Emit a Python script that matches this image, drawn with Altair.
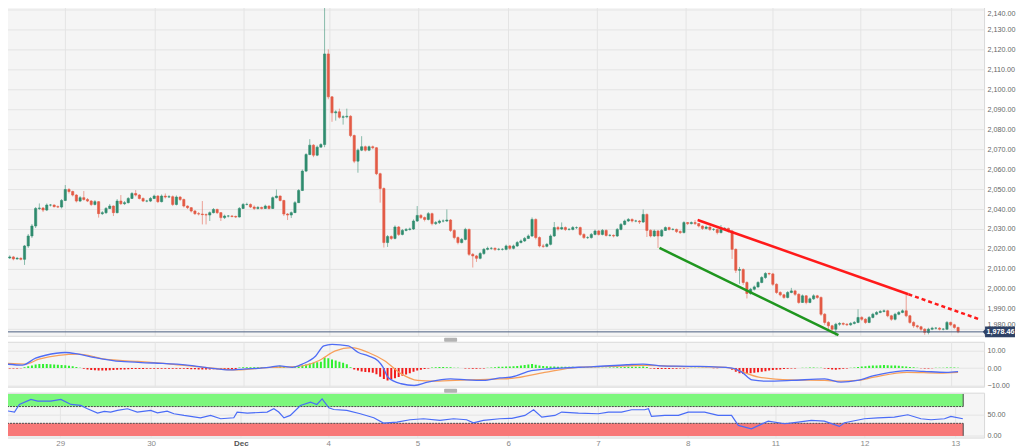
import json
import altair as alt
import pandas as pd

# ---------------- hourly candles (XAU/USD) ----------------
closes = [
    2015.5, 2016.0, 2015.0, 2015.3, 2014.8, 2021.5, 2026.5, 2031.5, 2040.3, 2040.5,
    2039.5, 2042.0, 2042.0, 2041.2, 2041.0, 2044.3, 2049.8, 2048.8, 2047.0, 2044.0,
    2045.7, 2044.8, 2044.0, 2042.3, 2043.7, 2037.7, 2038.2, 2040.3, 2041.5, 2038.2,
    2044.0, 2042.7, 2043.2, 2045.3, 2047.8, 2047.0, 2045.3, 2044.0, 2044.0, 2045.3,
    2046.5, 2043.7, 2046.5, 2046.0, 2046.2, 2042.3, 2046.0, 2044.8, 2041.5, 2040.7,
    2039.0, 2037.7, 2037.5, 2037.2, 2037.0, 2038.2, 2039.8, 2038.2, 2035.7, 2036.5,
    2036.5, 2036.3, 2036.0, 2040.3, 2042.3, 2042.3, 2041.0, 2040.3, 2040.8, 2040.3,
    2041.5, 2040.3, 2045.7, 2046.5, 2044.3, 2037.5, 2037.0, 2038.2, 2043.2, 2049.3,
    2059.0, 2067.3, 2072.0, 2067.0, 2071.0, 2072.3, 2117.7, 2096.2, 2088.2, 2088.7,
    2086.0, 2086.2, 2086.5, 2076.8, 2064.0, 2069.5, 2071.2, 2069.5, 2071.2, 2070.7,
    2057.7, 2050.3, 2023.2, 2026.2, 2025.3, 2031.0, 2027.3, 2029.3, 2029.8, 2030.0,
    2034.0, 2036.8, 2035.7, 2034.8, 2037.7, 2032.7, 2033.2, 2034.0, 2034.0, 2034.5,
    2029.3, 2025.7, 2023.2, 2024.8, 2029.8, 2017.3, 2016.5, 2015.3, 2017.7, 2019.8,
    2020.3, 2020.3, 2019.8, 2019.8, 2019.8, 2021.5, 2020.3, 2021.5, 2023.2, 2024.0,
    2025.3, 2026.5, 2034.8, 2025.7, 2021.5, 2021.3, 2022.3, 2026.5, 2030.7, 2030.0,
    2030.7, 2029.8, 2029.8, 2030.7, 2030.7, 2027.3, 2025.7, 2025.7, 2027.3, 2029.0,
    2027.3, 2029.3, 2026.8, 2026.8, 2026.5, 2029.8, 2032.3, 2034.0, 2034.8, 2034.0,
    2034.0, 2033.5, 2037.3, 2029.3, 2026.5, 2029.0, 2026.5, 2029.3, 2030.7, 2029.8,
    2029.8, 2028.7, 2028.2, 2033.2, 2032.7, 2033.2, 2032.7, 2031.5, 2030.3, 2031.0,
    2029.8, 2029.8, 2028.2, 2029.8, 2030.3, 2029.0, 2019.8, 2009.3, 2009.7, 2003.2,
    1997.7, 1999.8, 2001.0, 2003.2, 2005.7, 2007.7, 2007.5, 2002.3, 1998.2, 1997.0,
    1995.7, 1998.2, 1999.0, 1997.3, 1993.2, 1996.5, 1993.2, 1995.0, 1996.5, 1995.7,
    1987.3, 1983.2, 1981.5, 1979.8, 1982.3, 1982.7, 1982.3, 1982.0, 1982.7, 1983.2,
    1985.7, 1984.8, 1983.2, 1985.7, 1987.3, 1988.2, 1988.7, 1989.0, 1986.5, 1984.8,
    1987.3, 1988.2, 1989.0, 1986.5, 1983.2, 1981.5, 1981.0, 1979.8, 1978.2, 1979.8,
    1980.3, 1980.3, 1979.8, 1979.8, 1983.2, 1982.0, 1980.7, 1978.5,
]
highs = [
    2016.5, 2016.8, 2016.5, 2016.0, 2015.8, 2022.0, 2027.5, 2032.5, 2041.0, 2042.8,
    2041.0, 2042.8, 2042.5, 2042.3, 2041.8, 2045.0, 2052.0, 2050.5, 2049.2, 2047.5,
    2046.5, 2049.0, 2045.5, 2044.5, 2044.5, 2044.0, 2039.0, 2041.0, 2042.5, 2041.8,
    2045.0, 2047.0, 2044.0, 2046.0, 2048.5, 2049.5, 2047.5, 2045.8, 2044.6, 2046.0,
    2047.2, 2047.0, 2047.3, 2047.8, 2047.0, 2046.8, 2046.8, 2046.5, 2045.2, 2041.8,
    2041.0, 2039.5, 2038.5, 2044.0, 2037.8, 2038.8, 2040.5, 2040.2, 2038.5, 2037.2,
    2037.0, 2036.9, 2036.7, 2041.0, 2043.0, 2043.2, 2042.8, 2041.8, 2041.5, 2041.2,
    2042.2, 2041.8, 2046.3, 2049.8, 2046.8, 2044.6, 2038.0, 2038.8, 2044.0, 2050.0,
    2059.8, 2068.0, 2075.0, 2072.5, 2071.8, 2073.0, 2148.0, 2120.0, 2096.5, 2089.5,
    2090.3, 2087.0, 2090.3, 2087.0, 2077.3, 2070.3, 2076.5, 2071.8, 2071.8, 2071.8,
    2071.0, 2058.2, 2050.8, 2027.0, 2026.8, 2031.8, 2031.5, 2030.0, 2030.5, 2030.7,
    2034.8, 2041.5, 2037.5, 2036.3, 2038.5, 2038.2, 2034.0, 2034.7, 2034.8, 2039.8,
    2035.0, 2029.8, 2026.3, 2025.5, 2030.6, 2030.2, 2018.0, 2017.0, 2018.5, 2020.5,
    2021.2, 2021.0, 2020.8, 2020.5, 2020.4, 2022.2, 2022.0, 2022.2, 2024.0, 2024.8,
    2026.0, 2027.3, 2035.8, 2035.3, 2026.3, 2022.5, 2023.0, 2027.3, 2033.5, 2031.5,
    2033.3, 2031.3, 2030.5, 2031.5, 2031.3, 2031.2, 2027.8, 2026.4, 2028.0, 2029.7,
    2029.5, 2030.0, 2029.8, 2027.5, 2027.3, 2030.5, 2033.0, 2034.7, 2035.5, 2035.3,
    2034.6, 2034.5, 2039.8, 2037.8, 2029.8, 2029.7, 2029.5, 2030.0, 2031.3, 2031.2,
    2030.4, 2030.2, 2029.3, 2033.9, 2033.5, 2033.8, 2034.5, 2033.0, 2031.8, 2031.7,
    2031.3, 2030.4, 2030.2, 2032.0, 2031.0, 2030.7, 2029.5, 2020.3, 2011.0, 2010.3,
    2003.8, 2000.5, 2001.7, 2003.9, 2006.4, 2008.4, 2008.2, 2008.0, 2002.8, 1998.8,
    1997.5, 1998.9, 2000.5, 1999.5, 1997.8, 1997.2, 1996.9, 1995.7, 1997.3, 1997.0,
    1996.2, 1987.9, 1983.8, 1982.0, 1983.0, 1983.3, 1983.2, 1982.8, 1983.3, 1983.9,
    1989.8, 1986.3, 1985.3, 1986.4, 1988.0, 1988.9, 1989.4, 1989.7, 1989.5, 1987.0,
    1988.0, 1988.9, 1989.7, 1997.3, 1987.0, 1983.8, 1982.0, 1981.5, 1980.3, 1980.5,
    1981.0, 1980.9, 1980.8, 1980.4, 1983.9, 1983.6, 1982.5, 1981.0,
]
lows = [
    2014.0, 2015.0, 2014.3, 2014.7, 2014.3, 2012.0, 2020.5, 2025.5, 2030.5, 2039.5,
    2038.5, 2039.0, 2041.3, 2040.8, 2040.5, 2040.3, 2044.0, 2047.8, 2046.3, 2043.3,
    2043.5, 2044.2, 2043.5, 2041.5, 2041.8, 2035.7, 2037.0, 2037.5, 2040.0, 2036.5,
    2037.8, 2042.0, 2042.0, 2042.8, 2045.0, 2046.3, 2044.8, 2043.5, 2043.4, 2043.5,
    2045.0, 2043.0, 2043.3, 2045.3, 2045.5, 2041.5, 2041.8, 2044.0, 2040.8, 2040.0,
    2038.3, 2037.0, 2036.8, 2032.3, 2032.3, 2034.0, 2037.8, 2037.5, 2034.0, 2035.0,
    2035.8, 2035.8, 2035.5, 2035.8, 2040.0, 2041.8, 2040.5, 2039.5, 2039.8, 2039.8,
    2040.0, 2039.8, 2040.0, 2045.3, 2043.8, 2036.5, 2034.5, 2035.5, 2038.0, 2043.0,
    2049.0, 2058.5, 2067.0, 2066.0, 2066.5, 2071.0, 2071.0, 2095.0, 2083.7, 2084.3,
    2085.3, 2082.3, 2085.5, 2076.0, 2063.0, 2058.2, 2069.0, 2068.8, 2069.0, 2070.0,
    2057.0, 2043.2, 2020.7, 2021.0, 2024.5, 2024.8, 2026.5, 2026.8, 2028.8, 2029.2,
    2029.5, 2033.5, 2035.0, 2033.8, 2034.3, 2031.8, 2032.0, 2032.5, 2033.3, 2033.5,
    2028.5, 2024.8, 2022.3, 2022.8, 2024.3, 2016.5, 2010.7, 2013.5, 2014.8, 2017.0,
    2019.3, 2019.6, 2019.0, 2019.2, 2019.2, 2019.3, 2019.6, 2019.8, 2021.0, 2022.8,
    2023.5, 2025.0, 2026.0, 2024.8, 2020.8, 2020.5, 2020.8, 2021.8, 2026.0, 2029.2,
    2029.5, 2029.0, 2029.2, 2029.3, 2030.0, 2026.5, 2025.0, 2025.0, 2025.2, 2026.8,
    2026.7, 2026.8, 2026.2, 2026.2, 2025.8, 2026.0, 2029.3, 2031.8, 2033.5, 2033.3,
    2033.4, 2032.5, 2033.0, 2026.0, 2025.8, 2026.0, 2020.5, 2026.0, 2029.0, 2029.2,
    2029.3, 2028.0, 2027.5, 2027.8, 2032.0, 2032.3, 2032.0, 2030.8, 2029.5, 2029.8,
    2029.0, 2029.0, 2027.3, 2027.8, 2029.5, 2028.2, 2015.0, 2008.0, 2002.5, 2002.0,
    1995.2, 1997.0, 1999.2, 2000.5, 2002.8, 2005.0, 2006.8, 2001.5, 1997.5, 1996.3,
    1995.0, 1995.2, 1997.8, 1996.5, 1992.5, 1993.0, 1992.3, 1992.8, 1994.5, 1995.0,
    1986.5, 1982.0, 1979.5, 1977.5, 1976.0, 1981.5, 1981.7, 1981.4, 1981.5, 1982.2,
    1982.8, 1984.0, 1982.5, 1982.8, 1985.2, 1986.8, 1987.8, 1988.2, 1985.8, 1984.0,
    1984.2, 1986.8, 1987.8, 1985.8, 1982.5, 1980.5, 1980.2, 1979.0, 1977.0, 1977.2,
    1979.3, 1979.7, 1979.2, 1979.2, 1979.5, 1981.3, 1980.0, 1977.8,
]
first_open = 2014.5
last_price = 1978.46

# ---------------- MACD (histogram per candle, lines as read points) ----------------
hist = [
    -0.3, -0.3, -0.3, -0.2, -0.1, 0.5, 1.0, 1.5, 2.0, 2.3,
    2.3, 2.3, 2.2, 2.0, 1.9, 1.8, 1.6, 1.3, 1.0, 0.6,
    0.1, -0.4, -0.8, -1.1, -1.3, -1.5, -1.5, -1.4, -1.3, -1.2,
    -1.0, -0.9, -0.8, -0.7, -0.6, -0.5, -0.5, -0.5, -0.4, -0.4,
    -0.4, -0.4, -0.4, -0.4, -0.4, -0.4, -0.4, -0.4, -0.4, -0.6,
    -0.7, -0.7, -0.8, -0.8, -0.8, -0.8, -0.7, -0.7, -0.7, -0.6,
    -0.6, -0.5, -0.5, 0.3, 0.4, 0.4, 0.4, 0.4, 0.5, 0.5,
    0.5, 0.6, 0.8, 1.1, 1.3, 0.6, 0.1, 0.1, 0.4, 0.9,
    1.4, 2.0, 2.6, 3.0, 3.3, 3.6, 6.1, 5.6, 5.0, 4.4,
    3.7, 3.0, 2.2, 0.5, -0.8, -1.5, -2.0, -2.3, -2.5, -2.8,
    -3.6, -5.0, -6.4, -7.2, -6.6, -5.9, -5.2, -4.5, -3.7, -3.0,
    -2.2, -1.5, -1.0, -0.5, -0.2, 0.3, 0.5, 0.6, 0.6, 0.5,
    0.4, 0.2, 0.1, 0.0, -0.2, -0.3, -0.4, -0.4, -0.3, -0.2,
    0.1, 0.3, 0.5, 0.7, 0.8, 0.9, 0.9, 1.0, 1.2, 1.4,
    1.7, 2.0, 2.3, 1.9, 1.5, 1.2, 1.0, 0.9, 0.9, 0.8,
    0.8, 0.7, 0.7, 0.7, 0.6, 0.5, 0.4, 0.3, 0.3, 0.2,
    0.2, 0.2, 0.2, 0.3, 0.3, 0.4, 0.5, 0.6, 0.7, 0.8,
    0.8, 0.8, 0.9, 0.6, -0.2, -0.4, -0.5, -0.5, -0.5, -0.5,
    -0.4, -0.4, -0.3, -0.2, -0.1, 0.1, 0.2, 0.2, 0.1, 0.1,
    0.0, -0.1, -0.1, 0.0, 0.1, 0.0, -1.0, -2.2, -3.0, -3.4,
    -3.3, -3.0, -2.7, -2.4, -2.1, -1.8, -1.5, -1.2, -1.0, -0.8,
    -0.6, -0.4, -0.3, -0.2, 0.0, 0.1, 0.2, 0.3, 0.3, 0.2,
    0.1, -0.3, -0.6, -0.9, -1.0, -0.7, -0.4, -0.2, 0.1, 0.3,
    0.6, 0.9, 1.1, 1.3, 1.4, 1.5, 1.6, 1.7, 1.6, 1.5,
    1.4, 1.3, 1.1, 0.9, 0.6, 0.4, 0.2, -0.1, -0.2, -0.2,
    -0.1, 0.1, 0.2, 0.2, 0.3, 0.3, 0.3, 0.2,
]
macd_i = [0, 4.4, 8, 10.7, 16, 19.6, 24, 31, 40, 48.9, 55, 60.4, 64, 71, 73.8, 77.3, 80,
          83.6, 85.8, 88, 92.4, 95.1, 97.8, 100.4, 101.8, 103.1, 106.7, 110.2, 113.8, 120,
          124.4, 128.9, 133.3, 136.5, 141.8, 145.4, 149.8, 158.7, 167.6, 172, 176.5, 185.4,
          196, 198.7, 201.4, 205, 212, 221, 225.4, 229.8, 234.3, 238.7, 243.2, 247.6, 253.8, 257]
macd_v = [2.3, 1.7, 5.7, 7.4, 9.0, 8.0, 6.1, 3.8, 2.9, 1.7, 0.0, -1.1, -0.6, 0.4, 1.3, 0.4, 2.3,
          7.0, 12.8, 13.7, 12.8, 9.0, 7.0, 4.2, 0.4, -5.3, -9.1, -10.1, -8.2, -6.3,
          -6.9, -7.2, -5.7, -5.2, -1.5, -0.6, 0.0, 0.8, 1.9, 2.3, 1.3, 1.0,
          0.0, -2.5, -6.9, -7.6, -7.2, -6.3, -8.2, -7.2, -4.4, -2.5, -1.5, -1.9, -2.5, -2.1]
sig_i = [0, 5.3, 8.9, 19.6, 26.7, 35.6, 44.4, 53.3, 62.2, 71.1, 78.2, 84.4, 88.9, 93.3, 97.8,
         102.2, 106.7, 111.1, 115.6, 124.4, 133.3, 136.5, 145.4, 154.3, 163.2, 172, 180.9,
         194.3, 203.2, 212, 221, 225.4, 229.8, 234.3, 243.2, 252.1, 257]
sig_v = [2.7, 2.3, 5.1, 8.0, 5.1, 3.8, 2.3, 0.4, -1.1, 0.4, 0.8, 4.2, 9.9, 11.8, 9.0,
         4.2, -3.4, -7.2, -7.6, -6.9, -6.3, -6.0, -2.5, 0.4, 1.0, 1.5, 1.0,
         0.4, -5.3, -6.9, -7.2, -7.6, -7.2, -5.3, -2.5, -2.9, -2.5]

# ---------------- RSI ----------------
rsi_i = [0, 3.6, 4.9, 8, 9.8, 13.3, 16, 18.7, 21.3, 23.1, 25.8, 27.6, 29.3, 31.1, 33.8,
         36.4, 40, 41.8, 44.4, 46.2, 48.9, 53.3, 56, 58.7, 62.2, 63.1, 65.8, 71.1, 72.9, 74.2,
         75.6, 77.3, 80, 82.7, 84.4, 85.8, 87.6, 88.9, 92.4, 96, 99.6, 102.2, 105.8, 109.3, 112.9,
         117.3, 120.9, 124.4, 126.2, 128.9, 133.3, 136.5, 140, 142.3, 144.5, 148, 149.8, 154.3,
         159.6, 162.3, 165.8, 168.5, 172, 173, 173.8, 177.4, 181, 183.6, 188, 191.6, 195.2, 197,
         200.5, 205, 209.4, 213, 216.5, 220, 224, 225.4, 230.7, 234.3, 238.7, 242.3, 245.8,
         248.5, 252.1, 253.8, 257]
rsi_v = [62, 57, 75, 87, 83, 83, 87, 75, 72.6, 64.7, 54.4, 58.4, 56.8, 60.7, 64.7,
         56.8, 60.7, 55, 59, 52.8, 48.8, 43.2, 48.8, 40.9, 43.2, 56.8, 54.4, 56.8, 64.7, 56.8,
         43.2, 48.8, 72.6, 80.6, 75, 88.4, 67, 63, 60.7, 52.8, 43.2, 30.5, 33, 38.5, 40.9,
         36.9, 40.9, 38.5, 31.3, 36.9, 40.9, 42, 48.8, 62.3, 44.8, 48.8, 56.8, 54.4,
         52.8, 56.8, 56.8, 62.3, 62.3, 64.7, 46.5, 48.8, 48.8, 56.8, 56.8, 48.8, 48.8, 25,
         17, 35.3, 29, 33, 36.9, 35.3, 22.6, 31.3, 40.9, 43.2, 44.8, 50.4, 40.9,
         38.5, 40.9, 46.5, 40.9]
band_name = ["overbought", "oversold"]
band_lo = [70, 0]
band_hi = [100, 30]
band_start = [0, 0]
band_end = [257.1, 257.1]

# ---------------- trend lines ----------------
res_i = [186.7, 243.6]
res_p = [2034.5, 1997.3]
res_ext_i = [243.6, 262.7]
res_ext_p = [1997.3, 1984.8]
sup_i = [176.4, 224.7]
sup_p = [2020.5, 1976.8]

# ---------------- x axis ticks ----------------
tick_pos = [15.8, 40.1, 64.1, 87.4, 111.3, 135.5, 159.5, 183.5, 206.9, 230.7, 255.0]
tick_lab = ["29", "30", "Dec", "4", "5", "6", "7", "8", "11", "12", "13"]

# ================================================================
UP, DOWN = "#2f8c6e", "#e35a45"
FONT = "Liberation Sans"
W = 985
X_DOM = [0, 262.67]

n = len(closes)
opens = [first_open] + closes[:-1]
candles = pd.DataFrame({"i": list(range(n)), "o": opens, "c": closes, "h": highs, "l": lows})
candles["dir"] = ["up" if c >= o else "down" for o, c in zip(opens, closes)]

xs = alt.Scale(domain=X_DOM, nice=False, zero=False)
grid_axis = alt.Axis(values=tick_pos, labels=False, ticks=False, domain=False, title=None,
                     grid=True)
label_expr = f"{json.dumps(tick_lab)}[indexof({json.dumps(tick_pos)}, datum.value)]"
bottom_axis = alt.Axis(values=tick_pos, labelExpr=label_expr, ticks=False, domain=False,
                       title=None, grid=True, labelPadding=2, labelFontSize=8,
                       labelFlush=False, labelOverlap=False,
                       labelColor={"condition": {"test": "datum.value == 64.1", "value": "#555555"},
                                   "value": "#8a8a8a"},
                       labelFontWeight={"condition": {"test": "datum.value == 64.1", "value": "bold"},
                                        "value": "normal"})


def right_axis(vals, top_value=None, bottom_value=None):
    kw = {}
    if top_value is not None:
        kw["labelOffset"] = {"condition": [
            {"test": f"datum.value == {top_value}", "value": 4},
            {"test": f"datum.value == {bottom_value}", "value": -4.5}],
            "value": 0}
    return alt.Axis(orient="right", values=vals, format=",.2f", ticks=False, domain=False,
                    title=None, grid=True, labelPadding=3, labelOverlap=False, labelFlush=False,
                    **kw)


# ---------------- main price panel ----------------
py = alt.Scale(domain=[1976.5, 2144], nice=False, zero=False)
price_ticks = list(range(1980, 2141, 10))
p_axis = right_axis(price_ticks, top_value=price_ticks[-1], bottom_value=price_ticks[0])
PX = alt.X("i:Q", scale=xs, axis=grid_axis)
col = alt.Color("dir:N", scale=alt.Scale(domain=["up", "down"], range=[UP, DOWN]), legend=None)
scol = alt.Stroke("dir:N", scale=alt.Scale(domain=["up", "down"], range=[UP, DOWN]), legend=None)

wicks = alt.Chart(candles).mark_rule(strokeWidth=1, opacity=0.55, clip=True).encode(
    x=PX, y=alt.Y("l:Q", scale=py, axis=p_axis), y2="h:Q", color=col)
bodies = alt.Chart(candles).mark_bar(size=2.2, strokeWidth=0.6, clip=True).encode(
    x=PX, y=alt.Y("o:Q", scale=py, axis=p_axis), y2="c:Q", color=col, stroke=scol)
price_df = pd.DataFrame({"p": [last_price], "lab": [f"{last_price:,.2f}"]})
price_line = alt.Chart(price_df).mark_rule(color="#4b5f82", strokeWidth=1).encode(
    y=alt.Y("p:Q", scale=py, axis=p_axis))
res_df = pd.DataFrame({"i": res_i, "p": res_p})
res_ext_df = pd.DataFrame({"i": res_ext_i, "p": res_ext_p})
sup_df = pd.DataFrame({"i": sup_i, "p": sup_p})
res_line = alt.Chart(res_df).mark_line(color="#ff1a1a", strokeWidth=2.5).encode(
    x=PX, y=alt.Y("p:Q", scale=py, axis=p_axis))
res_ext = alt.Chart(res_ext_df).mark_line(color="#ff1a1a", strokeWidth=2.5, strokeDash=[4, 3]).encode(
    x=PX, y=alt.Y("p:Q", scale=py, axis=p_axis))
sup_line = alt.Chart(sup_df).mark_line(color="#1f961f", strokeWidth=2.5).encode(
    x=PX, y=alt.Y("p:Q", scale=py, axis=p_axis))

box_path = "M-1.15,0 L-1,-0.17 L-1,-0.36 L1,-0.36 L1,0.36 L-1,0.36 L-1,0.17 Z"
price_box = alt.Chart(price_df).mark_point(shape=box_path, size=900, filled=True,
                                           color="#2f4266", opacity=1).encode(
    x=alt.value(1001), y=alt.Y("p:Q", scale=py, axis=p_axis))
price_txt = alt.Chart(price_df).mark_text(color="white", fontSize=7.2, fontWeight="bold",
                                          font=FONT, align="center", baseline="middle").encode(
    x=alt.value(1001.5), y=alt.Y("p:Q", scale=py, axis=p_axis), text="lab:N")

main = alt.layer(wicks, bodies, price_line, res_line, res_ext, sup_line, price_box,
                 price_txt).properties(width=W, height=335)

# ---------------- MACD panel ----------------
my = alt.Scale(domain=[-10.8, 15.2], nice=False, zero=False)
m_axis = right_axis([-10, 0, 10])
handle_df = pd.DataFrame({"k": [0]})
handle = alt.Chart(handle_df).mark_rect(color="#b3b3b3", cornerRadius=1).encode(
    x=alt.value(444), x2=alt.value(457), y=alt.value(-4), y2=alt.value(0))
hist_df = pd.DataFrame({"i": list(range(n)), "v": hist})
hbars = alt.Chart(hist_df).mark_bar(size=2, clip=True).encode(
    x=PX, y=alt.Y("v:Q", scale=my, axis=m_axis), y2=alt.datum(0),
    color=alt.condition("datum.v >= 0", alt.value("#2ef02e"), alt.value("#f21c1c")),
)
sig_line = alt.Chart(pd.DataFrame({"i": sig_i, "v": sig_v})).mark_line(
    color="#f7a05b", strokeWidth=1.3, interpolate="monotone", clip=True).encode(
    x=PX, y=alt.Y("v:Q", scale=my, axis=m_axis))
macd_line = alt.Chart(pd.DataFrame({"i": macd_i, "v": macd_v})).mark_line(
    color="#4f6cf5", strokeWidth=1.3, interpolate="monotone", clip=True).encode(
    x=PX, y=alt.Y("v:Q", scale=my, axis=m_axis))
macd = alt.layer(hbars, sig_line, macd_line, handle).properties(width=W, height=45)

# ---------------- RSI panel ----------------
ry = alt.Scale(domain=[-4.05, 103.1], nice=False, zero=False)
r_axis = right_axis([0, 50])
BX = alt.X("i:Q", scale=xs, axis=bottom_axis)
bands_df = pd.DataFrame({"name": band_name, "lo": band_lo, "hi": band_hi,
                         "s": band_start, "e": band_end})
bands = alt.Chart(bands_df).mark_rect(clip=True).encode(
    x=alt.X("s:Q", scale=xs, axis=bottom_axis), x2="e:Q",
    y=alt.Y("lo:Q", scale=ry, axis=r_axis), y2="hi:Q",
    color=alt.condition("datum.name == 'overbought'", alt.value("#7df77d"), alt.value("#f87878")),
)
edge_h_df = pd.DataFrame({"y": [band_lo[0], band_hi[1]], "s": band_start, "e": band_end})
edge_h = alt.Chart(edge_h_df).mark_rule(color="#4a4a4a", strokeWidth=1, strokeDash=[2, 1],
                                        clip=True).encode(
    x=alt.X("s:Q", scale=xs, axis=bottom_axis), x2="e:Q", y=alt.Y("y:Q", scale=ry, axis=r_axis))
edge_v = alt.Chart(bands_df).mark_rule(color="#4a4a4a", strokeWidth=1, clip=True).encode(
    x=alt.X("e:Q", scale=xs, axis=bottom_axis), y=alt.Y("lo:Q", scale=ry, axis=r_axis), y2="hi:Q")
rsi_line = alt.Chart(pd.DataFrame({"i": rsi_i, "v": rsi_v})).mark_line(
    color="#4a6cf7", strokeWidth=1.2, clip=True).encode(
    x=BX, y=alt.Y("v:Q", scale=ry, axis=r_axis))
rsi = alt.layer(bands, edge_h, edge_v, rsi_line, handle).properties(width=W, height=45)

chart = alt.vconcat(main, macd, rsi, spacing=6, bounds="flush").properties(
    padding={"left": -8, "top": -8, "right": 0, "bottom": 0},
    background="#ffffff",
).configure_view(
    stroke="#d9d9d9", fill="#f5f5f5"
).configure_axis(
    labelFont=FONT, labelFontSize=7.2, labelColor="#666666", gridColor="#e4e4e4", gridWidth=1
)

chart.save("out.html", embed_options={"renderer": "svg", "actions": False})
